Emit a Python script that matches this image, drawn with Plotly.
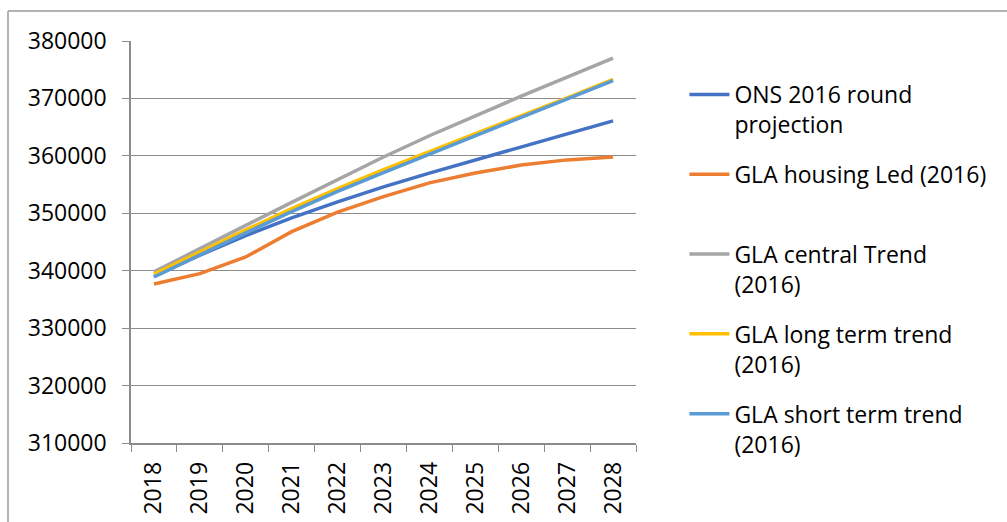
import plotly.graph_objects as go

years = ["2018", "2019", "2020", "2021", "2022", "2023", "2024", "2025", "2026", "2027", "2028"]

ons_2016 = [339000, 342700, 346100, 349200, 352000, 354600, 357000, 359300, 361600, 363900, 366100]
gla_housing_led = [337700, 339500, 342400, 346800, 350200, 352900, 355300, 357000, 358400, 359300, 359800]
gla_central = [339800, 343900, 347900, 351900, 355900, 359800, 363500, 367000, 370400, 373700, 377000]
gla_long = [339400, 343300, 347100, 350800, 354300, 357600, 360700, 363800, 366900, 370100, 373300]
gla_short = [338900, 342800, 346600, 350300, 353800, 357100, 360300, 363500, 366700, 369900, 373100]

names = [
    "ONS 2016 round<br>projection",
    "GLA housing Led (2016)<br> ",
    "GLA central Trend<br>(2016)",
    "GLA long term trend<br>(2016)",
    "GLA short term trend<br>(2016)",
]
colors = ["#4472C4", "#ED7D31", "#A5A5A5", "#FFC000", "#5B9BD5"]
series = [ons_2016, gla_housing_led, gla_central, gla_long, gla_short]

fig = go.Figure()
for i, (name, col, vals) in enumerate(zip(names, colors, series)):
    fig.add_trace(go.Scatter(x=years, y=vals, mode="lines", name=name,
                             legendgroup=f"g{i}",
                             line=dict(color=col, width=3.5)))

W, H = 1007, 522
L, R, T, B = 131, 636, 41, 443
FS = 23
fig.update_layout(
    width=W, height=H,
    margin=dict(l=L, r=W - R, t=T, b=H - B, autoexpand=False),
    paper_bgcolor="white", plot_bgcolor="white",
    font=dict(family="Open Sans, Calibri, sans-serif", size=FS, color="#000000"),
    showlegend=True,
    legend=dict(x=1.08 + 8 / (R - L), y=(B - 73) / (B - T), xanchor="left", yanchor="top",
                valign="top", font=dict(size=FS), itemwidth=40, traceorder="grouped",
                tracegroupgap=17, bgcolor="rgba(0,0,0,0)"),
    xaxis=dict(type="category", showgrid=False, showline=True, linecolor="#8c8c8c",
               linewidth=1.5, ticks="outside", tickson="boundaries", ticklen=7,
               tickcolor="#8c8c8c", tickangle=-90, tickfont=dict(size=FS),
               range=[-0.5, 10.5], ticklabelstandoff=8, automargin=False),
    yaxis=dict(range=[310000, 380000], dtick=10000, showgrid=True, gridcolor="#8c8c8c",
               gridwidth=1.2, showline=True, linecolor="#8c8c8c", linewidth=1.5,
               ticks="outside", ticklen=7, tickcolor="#8c8c8c", tickformat="d",
               tickfont=dict(size=FS), zeroline=False, ticklabelstandoff=11,
               automargin=False),
)

# outer chart border (top and left edges visible)
px2x = lambda px: (px - L) / (R - L)
py2y = lambda py: (B - py) / (B - T)
fig.add_shape(type="line", xref="paper", yref="paper", x0=px2x(8), x1=px2x(1010),
              y0=py2y(11), y1=py2y(11), line=dict(color="#9a9a9a", width=1.5))
fig.add_shape(type="line", xref="paper", yref="paper", x0=px2x(8), x1=px2x(8),
              y0=py2y(11), y1=py2y(525), line=dict(color="#9a9a9a", width=1.5))

fig.write_html("out.html", config={"displayModeBar": False},
               post_script="document.body.style.margin='0';document.body.style.overflow='hidden';")
